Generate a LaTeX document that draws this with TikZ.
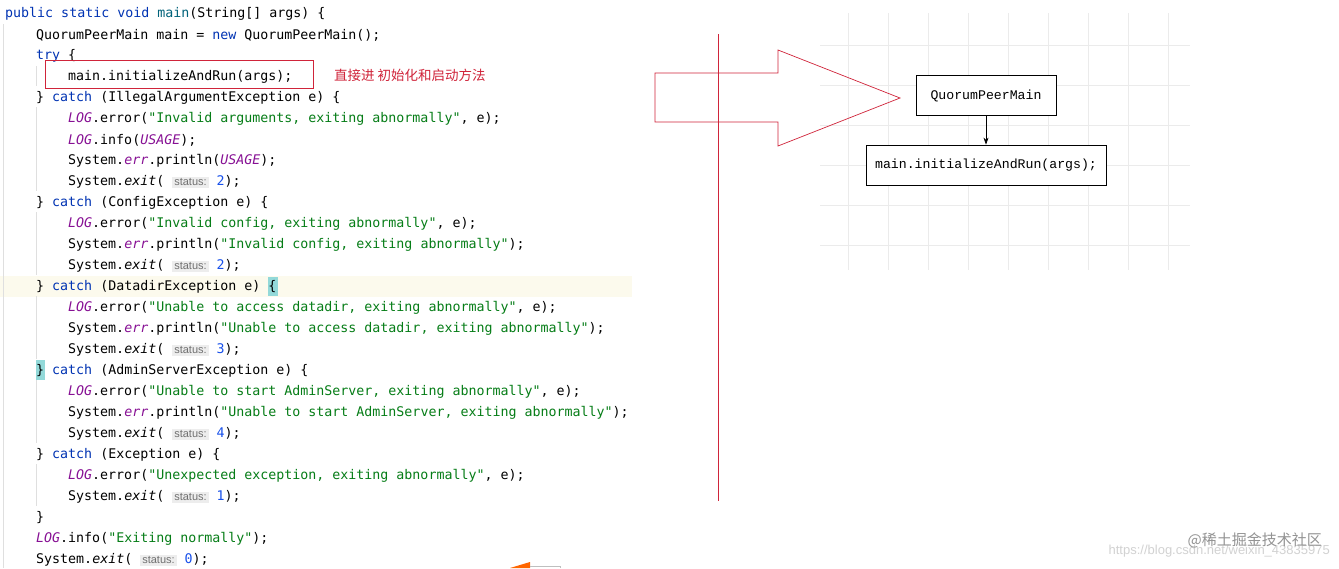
\documentclass[tikz,border=0pt]{standalone}
\usepackage{fontspec}
\usetikzlibrary{arrows.meta}
\newfontfamily\codefont{DejaVu Sans Mono}
\newfontfamily\boxfont{Liberation Mono}
\newfontfamily\hintfont{Liberation Sans}
\newfontfamily\cjk{Noto Sans CJK SC}
\definecolor{kwc}{HTML}{0033B3}
\definecolor{strc}{HTML}{067D17}
\definecolor{logc}{HTML}{871094}
\definecolor{numc}{HTML}{1750EB}
\definecolor{fnc}{HTML}{00627A}
\definecolor{hintbg}{HTML}{EDEDED}
\definecolor{hintfg}{HTML}{707070}
\definecolor{redc}{HTML}{D0243A}
\definecolor{gridc}{HTML}{EBEBEB}
\definecolor{linebg}{HTML}{FCFAED}
\definecolor{brace}{HTML}{93D9D9}
\newcommand\kwx[1]{\textcolor{kwc}{#1}}
\newcommand\strx[1]{\textcolor{strc}{#1}}
\newcommand\lgx[1]{\textcolor{logc}{\itshape #1}}
\newcommand\nmx[1]{\textcolor{numc}{#1}}
\newcommand\hintx[1]{{\setlength{\fboxsep}{2pt}\colorbox{hintbg}{\hintfont\fontsize{11}{11}\selectfont\color{hintfg}#1}}}
\newcommand\extx[1]{System.{\itshape exit}( \hintx{status:} \nmx{#1});}
\begin{document}
\begin{tikzpicture}[x=1pt,y=-1pt,
  code/.style={anchor=west,inner sep=0pt,font=\codefont\fontsize{13.3}{14}\selectfont},
  fbox/.style={draw,line width=0.8pt,minimum height=40pt,inner sep=0pt,font=\boxfont\fontsize{13.2}{14}\selectfont},
  guide/.style={draw=gray!25,line width=0.6pt}]
\useasboundingbox (0,0) rectangle (1339,568);
\fill[white] (0,0) rectangle (1339,568);
% current line highlight
\fill[linebg] (0,276) rectangle (632,297);
\fill[brace] (268,277) rectangle (278,296);
\fill[brace] (36,360) rectangle (45,380);
% indent guides
\draw[guide] (3,24) -- (3,568);
\draw[guide] (36,66) -- (36,86);
\foreach \a/\b in {107/191,212/275,296/359,380/443,464/506}{\draw[guide] (36,\a) -- (36,\b);}
% grid
\foreach \x in {848,888,...,1168}{\draw[gridc,line width=0.5pt] (\x,13) -- (\x,270);}
\foreach \y in {45,85,...,245}{\draw[gridc,line width=0.5pt] (820,\y) -- (1190,\y);}
% code
\node[code] (l1) at (5,14) {\kwx{public static void} \textcolor{fnc}{main}(String[] args) \{};
\node[code] (l2) at (36,35) {QuorumPeerMain main = \kwx{new} QuorumPeerMain();};
\node[code] (l3) at (36,56) {\kwx{try} \{};
\node[code] (l4) at (68,77) {main.initializeAndRun(args);};
\node[code] (l5) at (36,98) {\} \kwx{catch} (IllegalArgumentException e) \{};
\node[code] (l6) at (68,119) {\lgx{LOG}.error(\strx{"Invalid arguments, exiting abnormally"}, e);};
\node[code] (l7) at (68,140) {\lgx{LOG}.info(\lgx{USAGE});};
\node[code] (l8) at (68,161) {System.\lgx{err}.println(\lgx{USAGE});};
\node[code] (l9) at (68,182) {\extx{2}};
\node[code] (l10) at (36,203) {\} \kwx{catch} (ConfigException e) \{};
\node[code] (l11) at (68,224) {\lgx{LOG}.error(\strx{"Invalid config, exiting abnormally"}, e);};
\node[code] (l12) at (68,245) {System.\lgx{err}.println(\strx{"Invalid config, exiting abnormally"});};
\node[code] (l13) at (68,266) {\extx{2}};
\node[code] (l14) at (36,287) {\} \kwx{catch} (DatadirException e) \{};
\node[code] (l15) at (68,308) {\lgx{LOG}.error(\strx{"Unable to access datadir, exiting abnormally"}, e);};
\node[code] (l16) at (68,329) {System.\lgx{err}.println(\strx{"Unable to access datadir, exiting abnormally"});};
\node[code] (l17) at (68,350) {\extx{3}};
\node[code] (l18) at (36,371) {\} \kwx{catch} (AdminServerException e) \{};
\node[code] (l19) at (68,392) {\lgx{LOG}.error(\strx{"Unable to start AdminServer, exiting abnormally"}, e);};
\node[code] (l20) at (68,413) {System.\lgx{err}.println(\strx{"Unable to start AdminServer, exiting abnormally"});};
\node[code] (l21) at (68,434) {\extx{4}};
\node[code] (l22) at (36,455) {\} \kwx{catch} (Exception e) \{};
\node[code] (l23) at (68,476) {\lgx{LOG}.error(\strx{"Unexpected exception, exiting abnormally"}, e);};
\node[code] (l24) at (68,497) {\extx{1}};
\node[code] (l25) at (36,518) {\}};
\node[code] (l26) at (36,539) {\lgx{LOG}.info(\strx{"Exiting normally"});};
\node[code] (l27) at (36,560) {\extx{0}};
% annotation
\node[draw=redc,line width=0.8pt,minimum width=268pt,minimum height=28pt,inner sep=0pt] (hl) at (179,74) {};
\node[anchor=west,inner sep=0pt,text=redc,font=\cjk\fontsize{13.5}{14}\selectfont] (note) at (334,75) {直接进 初始化和启动方法};
% red line and arrow
\coordinate (vt) at (718,34);
\coordinate (vb) at (718,501);
\draw[redc,line width=0.8pt] (vt) -- (vb);
\draw[redc,line width=0.7pt] (655,73) -- (778,73) -- (778,50) -- (900,98) -- (778,146) -- (778,122) -- (655,122) -- cycle;
% boxes
\node[fbox,minimum width=140pt,fill=white] (qpm) at (986,95.5) {QuorumPeerMain};
\node[fbox,minimum width=240pt,fill=white] (init) at (986,165) {main.initializeAndRun(args);};
\draw[-{Stealth[length=7pt,width=5pt]},line width=0.6pt] (qpm) -- (init);
% bottom orange fragment
\fill[orange!80!red] (510,568) -- (530,562) -- (530,568) -- cycle;
\draw[gray!50,line width=0.6pt] (530,566) -- (560,566) -- (560,568);
% watermark
\node[anchor=east,inner sep=0pt,text=gray!35,font=\hintfont\fontsize{13}{13}\selectfont] (url) at (1330,551) {https://blog.csdn.net/weixin\_43835975};
\node[anchor=east,inner sep=0pt,text=gray!85,font=\cjk\fontsize{15}{15}\selectfont] (wm) at (1322,540) {@稀土掘金技术社区};
\end{tikzpicture}
\end{document}
